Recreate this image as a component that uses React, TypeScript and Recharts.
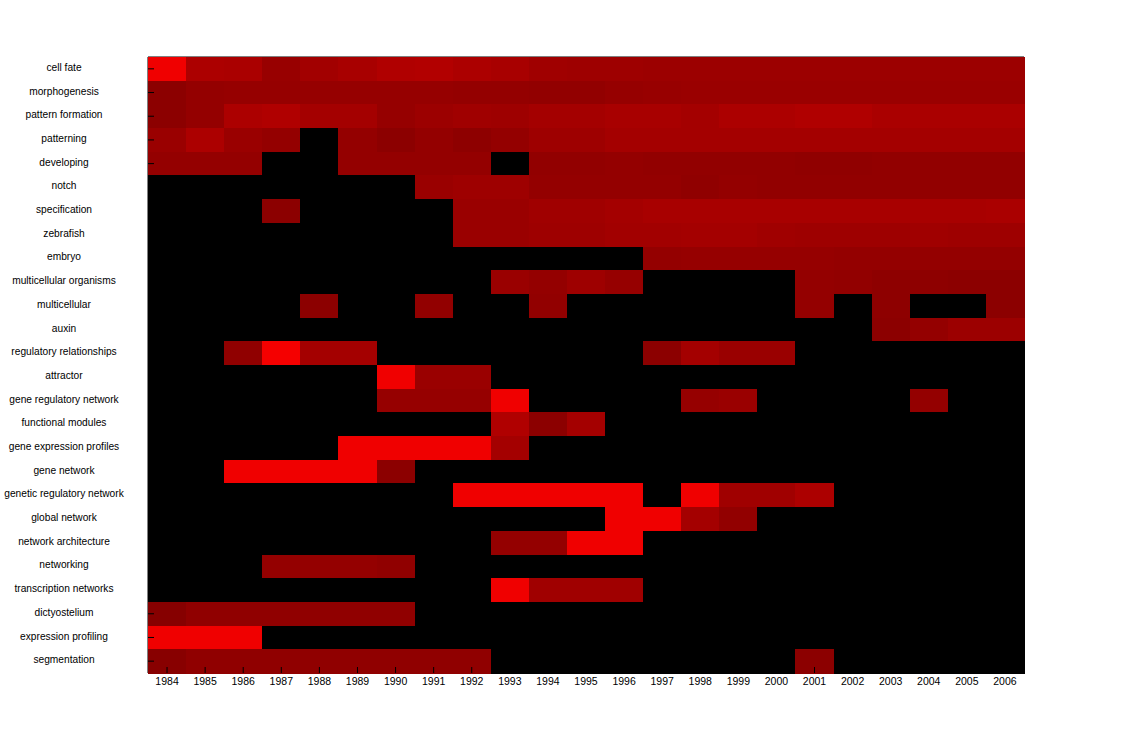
import React from 'react';
import { ScatterChart, Scatter, XAxis, YAxis, ReferenceArea } from 'recharts';

const years = [
  '1984', '1985', '1986', '1987', '1988', '1989', '1990', '1991', '1992', '1993', '1994', '1995',
  '1996', '1997', '1998', '1999', '2000', '2001', '2002', '2003', '2004', '2005', '2006',
];

const terms = [
  'cell fate', 'morphogenesis', 'pattern formation', 'patterning', 'developing', 'notch',
  'specification', 'zebrafish', 'embryo', 'multicellular organisms', 'multicellular', 'auxin',
  'regulatory relationships', 'attractor', 'gene regulatory network', 'functional modules',
  'gene expression profiles', 'gene network', 'genetic regulatory network', 'global network',
  'network architecture', 'networking', 'transcription networks', 'dictyostelium',
  'expression profiling', 'segmentation',
];

// heat value per year (red channel level, 0 = none)
const cellFate = [240, 172, 170, 152, 162, 168, 176, 178, 172, 168, 160, 158, 158, 156, 156, 156, 156, 156, 156, 156, 156, 156, 156];
const morphogenesis = [140, 148, 150, 150, 150, 150, 150, 150, 148, 148, 146, 146, 150, 152, 154, 154, 154, 154, 154, 154, 154, 154, 154];
const patternFormation = [140, 148, 172, 176, 164, 164, 150, 156, 160, 158, 164, 164, 168, 168, 164, 172, 172, 176, 176, 170, 170, 170, 170];
const patterning = [154, 172, 154, 148, 0, 148, 140, 148, 142, 148, 158, 158, 164, 164, 164, 164, 164, 164, 164, 164, 164, 164, 164];
const developing = [148, 148, 148, 0, 0, 148, 148, 148, 148, 0, 146, 146, 148, 146, 146, 146, 146, 144, 144, 146, 146, 146, 146];
const notch = [0, 0, 0, 0, 0, 0, 0, 154, 158, 158, 148, 148, 148, 148, 144, 148, 146, 146, 146, 146, 146, 146, 146];
const specification = [0, 0, 0, 140, 0, 0, 0, 0, 154, 154, 160, 160, 164, 168, 168, 168, 168, 168, 168, 168, 168, 168, 170];
const zebrafish = [0, 0, 0, 0, 0, 0, 0, 0, 154, 154, 158, 158, 162, 162, 164, 164, 160, 158, 158, 158, 160, 158, 158];
const embryo = [0, 0, 0, 0, 0, 0, 0, 0, 0, 0, 0, 0, 0, 148, 150, 150, 150, 150, 148, 148, 148, 148, 148];
const multicellularOrganisms = [0, 0, 0, 0, 0, 0, 0, 0, 0, 154, 148, 158, 150, 0, 0, 0, 0, 148, 146, 142, 142, 140, 140];
const multicellular = [0, 0, 0, 0, 140, 0, 0, 146, 0, 0, 146, 0, 0, 0, 0, 0, 0, 148, 0, 142, 0, 0, 140];
const auxin = [0, 0, 0, 0, 0, 0, 0, 0, 0, 0, 0, 0, 0, 0, 0, 0, 0, 0, 0, 140, 148, 156, 156];
const regulatoryRelationships = [0, 0, 144, 245, 164, 164, 0, 0, 0, 0, 0, 0, 0, 140, 164, 154, 154, 0, 0, 0, 0, 0, 0];
const attractor = [0, 0, 0, 0, 0, 0, 240, 154, 154, 0, 0, 0, 0, 0, 0, 0, 0, 0, 0, 0, 0, 0, 0];
const geneRegulatoryNetwork = [0, 0, 0, 0, 0, 0, 150, 150, 150, 240, 0, 0, 0, 0, 150, 154, 0, 0, 0, 0, 148, 0, 0];
const functionalModules = [0, 0, 0, 0, 0, 0, 0, 0, 0, 176, 140, 164, 0, 0, 0, 0, 0, 0, 0, 0, 0, 0, 0];
const geneExpressionProfiles = [0, 0, 0, 0, 0, 240, 240, 240, 240, 164, 0, 0, 0, 0, 0, 0, 0, 0, 0, 0, 0, 0, 0];
const geneNetwork = [0, 0, 240, 240, 240, 240, 140, 0, 0, 0, 0, 0, 0, 0, 0, 0, 0, 0, 0, 0, 0, 0, 0];
const geneticRegulatoryNetwork = [0, 0, 0, 0, 0, 0, 0, 0, 240, 240, 240, 240, 240, 0, 240, 160, 160, 172, 0, 0, 0, 0, 0];
const globalNetwork = [0, 0, 0, 0, 0, 0, 0, 0, 0, 0, 0, 0, 240, 240, 164, 146, 0, 0, 0, 0, 0, 0, 0];
const networkArchitecture = [0, 0, 0, 0, 0, 0, 0, 0, 0, 148, 148, 240, 240, 0, 0, 0, 0, 0, 0, 0, 0, 0, 0];
const networking = [0, 0, 0, 148, 148, 148, 144, 0, 0, 0, 0, 0, 0, 0, 0, 0, 0, 0, 0, 0, 0, 0, 0];
const transcriptionNetworks = [0, 0, 0, 0, 0, 0, 0, 0, 0, 240, 160, 160, 160, 0, 0, 0, 0, 0, 0, 0, 0, 0, 0];
const dictyostelium = [134, 144, 144, 144, 144, 144, 144, 0, 0, 0, 0, 0, 0, 0, 0, 0, 0, 0, 0, 0, 0, 0, 0];
const expressionProfiling = [240, 240, 240, 0, 0, 0, 0, 0, 0, 0, 0, 0, 0, 0, 0, 0, 0, 0, 0, 0, 0, 0, 0];
const segmentation = [136, 144, 144, 144, 144, 144, 144, 144, 144, 0, 0, 0, 0, 0, 0, 0, 0, 140, 0, 0, 0, 0, 0];

const rows = [
  cellFate, morphogenesis, patternFormation, patterning, developing, notch, specification,
  zebrafish, embryo, multicellularOrganisms, multicellular, auxin, regulatoryRelationships,
  attractor, geneRegulatoryNetwork, functionalModules, geneExpressionProfiles, geneNetwork,
  geneticRegulatoryNetwork, globalNetwork, networkArchitecture, networking,
  transcriptionNetworks, dictyostelium, expressionProfiling, segmentation,
];

const cells = rows.flatMap((row, r) => row.map((v, c) => ({ x: c, y: r, v })));
const colTicks = years.map((_, i) => i);
const rowTicks = terms.map((_, i) => i);

const W = 1132;
const H = 756;
const margin = { top: 57, right: 108, bottom: 63, left: 0 };
const Y_AXIS_W = 148;
const X_AXIS_H = 20;
const plotW = W - margin.left - margin.right - Y_AXIS_W;
const plotH = H - margin.top - margin.bottom - X_AXIS_H;
const font = '"Liberation Sans", Arial, Helvetica, sans-serif';

const HeatCell = (props: any) => {
  const { cx, cy, payload } = props;
  const w = plotW / years.length;
  const h = plotH / terms.length;
  return (
    <rect
      x={cx - w / 2}
      y={cy - h / 2}
      width={w + 1}
      height={h + 1}
      fill={`rgb(${payload.v},0,0)`}
      shapeRendering="crispEdges"
    />
  );
};

const YearTick = ({ x, y, payload }: any) => (
  <g>
    <line x1={x} y1={y} x2={x} y2={y - 6} stroke="#000" />
    <text x={x} y={y + 12} textAnchor="middle" fontSize={10.5} fontFamily={font} fill="#000">
      {years[payload.value]}
    </text>
  </g>
);

const TopTick = ({ x, y }: any) => <line x1={x} y1={y} x2={x} y2={y + 6} stroke="#000" />;

const TermTick = ({ x, y, payload }: any) => (
  <g>
    <line x1={x} y1={y} x2={x + 6} y2={y} stroke="#000" />
    <text x={x - 84} y={y - 1.5} dy="0.35em" textAnchor="middle" fontSize={10.2} fontFamily={font} fill="#000">
      {terms[payload.value]}
    </text>
  </g>
);

const RightTick = ({ x, y }: any) => <line x1={x} y1={y} x2={x - 7} y2={y} stroke="#000" />;

export default function App() {
  return (
    <div style={{ position: 'absolute', left: 0, top: 0, width: W, height: H, background: '#fff' }}>
      <ScatterChart width={W} height={H} margin={margin}>
        <XAxis
          dataKey="x"
          type="number"
          domain={[-0.5, years.length - 0.5]}
          ticks={colTicks}
          height={X_AXIS_H}
          axisLine={false}
          tickLine={false}
          tickSize={0}
          tickMargin={0}
          tick={<YearTick />}
          interval={0}
        />
        <XAxis
          xAxisId="top"
          orientation="top"
          type="number"
          domain={[-0.5, years.length - 0.5]}
          ticks={colTicks}
          height={0}
          axisLine={false}
          tickLine={false}
          tickSize={0}
          tickMargin={0}
          tick={<TopTick />}
          interval={0}
        />
        <YAxis
          dataKey="y"
          type="number"
          reversed
          domain={[-0.5, terms.length - 0.5]}
          ticks={rowTicks}
          width={Y_AXIS_W}
          axisLine={false}
          tickLine={false}
          tickSize={0}
          tickMargin={0}
          tick={<TermTick />}
          interval={0}
        />
        <YAxis
          yAxisId="right"
          orientation="right"
          type="number"
          reversed
          domain={[-0.5, terms.length - 0.5]}
          ticks={rowTicks}
          width={0}
          axisLine={false}
          tickLine={false}
          tickSize={0}
          tickMargin={0}
          tick={<RightTick />}
          interval={0}
        />
        <Scatter data={cells} shape={HeatCell} isAnimationActive={false} />
        <ReferenceArea
          x1={-0.5}
          x2={years.length - 0.5}
          y1={-0.5}
          y2={terms.length - 0.5}
          fill="none"
          stroke="#000"
          strokeWidth={1}
          ifOverflow="visible"
        />
      </ScatterChart>
    </div>
  );
}
